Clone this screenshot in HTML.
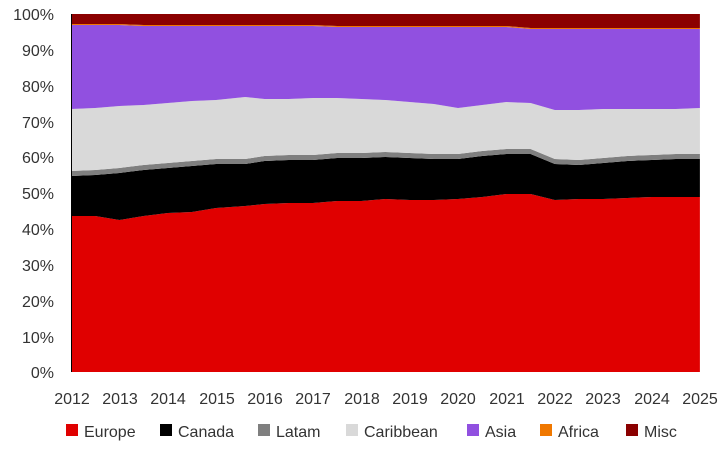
<!DOCTYPE html>
<html><head><meta charset="utf-8"><style>
body{margin:0;background:#fff;width:720px;height:446px;overflow:hidden;font-family:"Liberation Sans",sans-serif;}
</style></head><body>
<svg width="720" height="446" xmlns="http://www.w3.org/2000/svg" font-family="Liberation Sans, sans-serif">
<g id="areas"></g>
<line x1="71.5" y1="14" x2="71.5" y2="372" stroke="#000" stroke-width="1"/>
<g font-size="16" fill="#333" text-anchor="end">
<text x="54" y="20">100%</text><text x="54" y="56">90%</text><text x="54" y="92">80%</text><text x="54" y="128">70%</text><text x="54" y="163">60%</text><text x="54" y="199">50%</text><text x="54" y="235">40%</text><text x="54" y="271">30%</text><text x="54" y="307">20%</text><text x="54" y="343">10%</text><text x="54" y="378">0%</text>
</g>
<g font-size="16" fill="#333" text-anchor="middle">
<text x="72" y="404">2012</text><text x="120" y="404">2013</text><text x="168" y="404">2014</text><text x="217" y="404">2015</text><text x="265" y="404">2016</text><text x="313" y="404">2017</text><text x="362" y="404">2018</text><text x="410" y="404">2019</text><text x="458" y="404">2020</text><text x="507" y="404">2021</text><text x="555" y="404">2022</text><text x="603" y="404">2023</text><text x="652" y="404">2024</text><text x="700" y="404">2025</text>
</g>
<g font-size="16" fill="#333">
<rect x="66" y="424" width="12" height="12" fill="#e00000"/><text x="84" y="437">Europe</text>
<rect x="160" y="424" width="12" height="12" fill="#000"/><text x="178" y="437">Canada</text>
<rect x="258" y="424" width="12" height="12" fill="#7f7f7f"/><text x="276" y="437">Latam</text>
<rect x="346" y="424" width="12" height="12" fill="#d9d9d9"/><text x="364" y="437">Caribbean</text>
<rect x="467" y="424" width="12" height="12" fill="#9150e0"/><text x="485" y="437">Asia</text>
<rect x="540" y="424" width="12" height="12" fill="#f07800"/><text x="558" y="437">Africa</text>
<rect x="626" y="424" width="12" height="12" fill="#8b0000"/><text x="644" y="437">Misc</text>
</g>
</svg>
<script>
(function(){
var T=[2012,2012.5,2013,2013.5,2014,2014.5,2015,2015.6,2016,2016.5,2017,2017.5,2018,2018.5,2019,2019.5,2020,2020.5,2021,2021.5,2022,2022.5,2023,2023.5,2024,2024.5,2025];
var eu=[216,216,220,216,213,212,208,206,204,203,203,201,201,199,200,200,199,197,194,194,200,199,199,198,197,197,197];
var ca=[176,175,173,170,168,166,164,164,161,160,160,158,158,157,158,159,159,156,154,154,164,165,163,161,160,159,159];
var la=ca.map(function(v){return v-5;});
var cb=[109,108,106,105,103,101,100,97,99,99,98,98,99,100,102,104,108,105,102,103,110,110,109,109,109,109,108];
var as=[25,25,25,26,26,26,26,26,26,26,26,27,27,27,27,27,27,27,27,29,29,29,29,29,29,29,29];
var af=as.map(function(v){return v-1;});
function X(t){return 71+(t-2012)*48.38;}
var tp=T.map(function(){return 14;}), bt=T.map(function(){return 372;});
var NS="http://www.w3.org/2000/svg", g=document.getElementById('areas');
function poly(up,lo,c){var p=[];for(var i=0;i<T.length;i++)p.push(X(T[i]).toFixed(1)+','+up[i]);for(var j=T.length-1;j>=0;j--)p.push(X(T[j]).toFixed(1)+','+lo[j]);
var el=document.createElementNS(NS,'polygon');el.setAttribute('points',p.join(' '));el.setAttribute('fill',c);g.appendChild(el);}
poly(eu,bt,'#e00000');poly(ca,eu,'#000');poly(la,ca,'#7f7f7f');poly(cb,la,'#d9d9d9');poly(as,cb,'#9150e0');poly(af,as,'#f07800');poly(tp,af,'#8b0000');
})();
</script>
</body></html>
